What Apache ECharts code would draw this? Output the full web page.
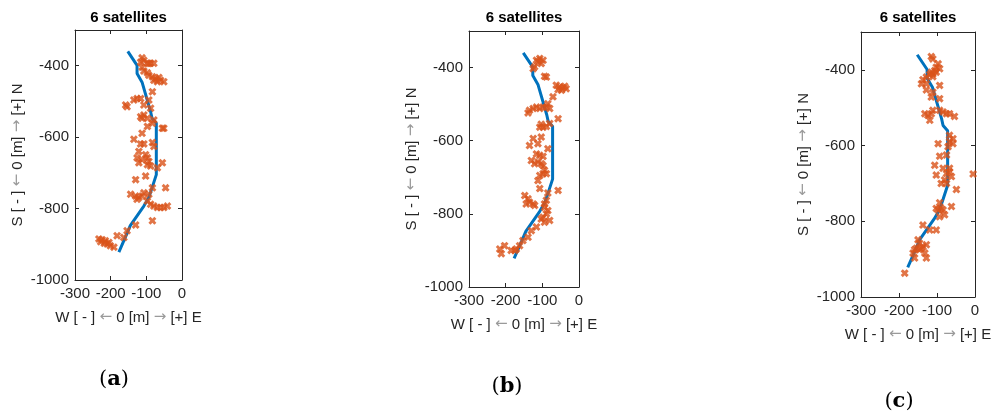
<!DOCTYPE html>
<html>
<head>
<meta charset="utf-8">
<script src="https://cdn.jsdelivr.net/npm/echarts@6/dist/echarts.min.js"></script>
<style>
  html, body { margin: 0; padding: 0; background: #fff; }
  #chart { width: 1000px; height: 414px; }
</style>
</head>
<body>
<div id="chart"></div>
<script>
// reference track, same in all three panels [E, N] in m
const truePath = [
  [-152, -360], [-126, -399], [-126, -422], [-112, -446], [-88, -529], [-84, -547],
  [-72, -561], [-72, -705], [-84, -742], [-93, -769], [-107, -793], [-145, -848],
  [-163, -890], [-177, -922]
];

// estimated positions, panel (a)
const fixesA = [
  [-112, -378], [-107, -385], [-116, -390], [-97, -393], [-88, -393], [-79, -393], [-93, -394],
  [-112, -404], [-107, -415], [-97, -420], [-93, -427], [-83, -431], [-74, -436], [-65, -433],
  [-60, -441], [-51, -445], [-79, -441], [-69, -445], [-83, -473], [-135, -496], [-126, -492],
  [-116, -492], [-93, -496], [-107, -510], [-158, -510], [-154, -515], [-88, -519], [-116, -543],
  [-107, -538], [-97, -547], [-112, -547], [-79, -552], [-97, -570], [-83, -561], [-55, -575],
  [-51, -575], [-112, -589], [-135, -606], [-107, -619], [-116, -619], [-83, -615], [-79, -626],
  [-121, -640], [-126, -658], [-121, -672], [-112, -663], [-102, -649], [-97, -658], [-93, -668],
  [-97, -677], [-88, -681], [-55, -672], [-69, -686], [-130, -719], [-102, -709], [-46, -742],
  [-83, -742], [-144, -760], [-130, -765], [-121, -769], [-112, -765], [-107, -756], [-93, -760],
  [-126, -774], [-97, -779], [-88, -788], [-79, -793], [-69, -797], [-60, -797], [-51, -797],
  [-41, -793], [-83, -834], [-130, -846], [-154, -862], [-163, -881], [-182, -876], [-233, -885],
  [-224, -887], [-215, -890], [-210, -899], [-201, -904], [-191, -908], [-228, -893], [-218, -897],
  [-205, -895]
];

// estimated positions, panel (b)
const fixesB = [
  [-107, -375], [-98, -380], [-112, -384], [-103, -389], [-116, -380], [-125, -403], [-121, -398],
  [-94, -424], [-89, -426], [-62, -448], [-53, -453], [-44, -455], [-35, -458], [-48, -462],
  [-57, -460], [-39, -451], [-71, -480], [-85, -499], [-80, -512], [-98, -508], [-107, -512],
  [-116, -508], [-125, -512], [-135, -517], [-139, -524], [-89, -508], [-57, -540], [-80, -553],
  [-98, -563], [-107, -563], [-89, -561], [-103, -555], [-125, -594], [-103, -590], [-135, -613],
  [-112, -608], [-85, -622], [-107, -640], [-116, -636], [-98, -643], [-130, -654], [-121, -663],
  [-112, -658], [-103, -663], [-98, -668], [-98, -690], [-94, -681], [-107, -695], [-89, -690],
  [-112, -709], [-107, -731], [-85, -743], [-57, -736], [-148, -750], [-139, -759], [-135, -768],
  [-125, -773], [-121, -777], [-144, -773], [-89, -763], [-94, -773], [-94, -782], [-85, -791],
  [-89, -800], [-98, -809], [-103, -814], [-80, -818], [-94, -823], [-116, -836], [-130, -846],
  [-139, -864], [-153, -873], [-162, -887], [-171, -896], [-175, -900], [-203, -887], [-216, -896],
  [-212, -909], [-185, -900]
];

// estimated positions, panel (c)
const fixesC = [
  [-115, -365], [-111, -371], [-97, -384], [-102, -393], [-106, -402], [-115, -406], [-119, -412],
  [-111, -411], [-128, -419], [-137, -426], [-141, -437], [-128, -437], [-111, -418], [-102, -406],
  [-93, -397], [-93, -441], [-128, -453], [-111, -459], [-115, -472], [-93, -476], [-132, -516],
  [-124, -520], [-115, -516], [-119, -533], [-111, -507], [-84, -511], [-75, -516], [-67, -516],
  [-54, -523], [-93, -507], [-67, -573], [-58, -582], [-67, -590], [-58, -595], [-71, -603],
  [-97, -595], [-75, -625], [-93, -628], [-106, -652], [-84, -660], [-75, -674], [-67, -669],
  [-62, -682], [-80, -691], [-75, -700], [-89, -700], [-102, -678], [-67, -660], [-5, -675],
  [-49, -716], [-93, -751], [-97, -770], [-89, -766], [-84, -770], [-80, -783], [-93, -788],
  [-102, -766], [-62, -761], [-137, -810], [-119, -823], [-102, -823], [-150, -849], [-146, -858],
  [-154, -871], [-159, -875], [-146, -875], [-137, -867], [-128, -862], [-132, -884], [-128, -897],
  [-159, -897], [-163, -884], [-141, -871], [-185, -937]
];

const panelLetters = ['a', 'b', 'c'];
const xTicks = { min: -300, max: 0, interval: 100 };
const yTicks = { min: -1000, max: -300, interval: 200 };

// layout of the three axes boxes (px)
const boxes = [
  { left: 75, top: 30, width: 107, height: 250, cap: [114, 380] },
  { left: 469, top: 31, width: 110, height: 256, cap: [507, 387] },
  { left: 861, top: 32, width: 114, height: 265, cap: [899, 402] }
];

const ink = '#262626';
const crossPath = 'path://M0,2.6L2.6,0L5,2.4L7.4,0L10,2.6L7.6,5L10,7.4L7.4,10L5,7.6L2.6,10L0,7.4L2.4,5Z';
const arrowRich = {
  ar: { color: '#9a9a9a', fontSize: 15, fontFamily: 'DejaVu Sans' }
};
const plain = v => String(v);

let chart = echarts.init(document.getElementById('chart'));

let grids = [], xAxes = [], yAxes = [], series = [], graphics = [];
const fixes = [fixesA, fixesB, fixesC];

boxes.forEach((b, i) => {
  grids.push({ left: b.left, top: b.top, width: b.width, height: b.height, containLabel: false });
  const line = { show: true, onZero: false, lineStyle: { color: ink, width: 1 } };
  const tick = { show: true, inside: true, length: 4, lineStyle: { color: ink } };
  xAxes.push({
    type: 'value', gridIndex: i, position: 'bottom', ...xTicks,
    axisLine: line, axisTick: tick, splitLine: { show: false },
    axisLabel: { color: ink, fontSize: 15, fontFamily: 'Liberation Sans', margin: 6, formatter: plain },
    name: 'W [ - ] {ar|←} 0 [m] {ar|→} [+] E',
    nameLocation: 'middle', nameGap: 30,
    nameTextStyle: { color: ink, fontSize: 15, fontFamily: 'Liberation Sans', rich: arrowRich }
  });
  yAxes.push({
    type: 'value', gridIndex: i, position: 'left', ...yTicks,
    axisLine: line, axisTick: tick, splitLine: { show: false },
    axisLabel: { color: ink, fontSize: 15, fontFamily: 'Liberation Sans', margin: 6, showMaxLabel: false, formatter: plain },
    name: 'S [ - ] {ar|←} 0 [m] {ar|→} [+] N',
    nameLocation: 'middle', nameGap: 50,
    nameTextStyle: { color: ink, fontSize: 15, fontFamily: 'Liberation Sans', rich: arrowRich }
  });
  series.push({
    type: 'line', xAxisIndex: i, yAxisIndex: i, data: truePath,
    showSymbol: false, lineStyle: { color: '#0072BD', width: 3 }, z: 2, silent: true
  });
  series.push({
    type: 'scatter', xAxisIndex: i, yAxisIndex: i, data: fixes[i],
    symbol: crossPath, symbolSize: 8, itemStyle: { color: '#D95319' }, z: 3
  });
  graphics.push({
    type: 'text', x: b.left + b.width / 2, y: 18,
    style: { text: '6 satellites', fill: '#000', font: 'bold 15px "Liberation Sans"', align: 'center', verticalAlign: 'middle' }
  });
  graphics.push({
    type: 'text', x: b.cap[0], y: b.cap[1],
    style: {
      text: '{p|(}{l|' + panelLetters[i] + '}{p|)}', align: 'center', verticalAlign: 'middle',
      rich: {
        p: { fontSize: 21, fontFamily: 'DejaVu Serif', fill: '#000' },
        l: { fontSize: 21, fontFamily: 'DejaVu Serif', fontWeight: 'bold', fill: '#000' }
      }
    }
  });
});

// mirrored top/right axes, MATLAB box style
boxes.forEach((b, i) => {
  const line = { show: true, onZero: false, lineStyle: { color: ink, width: 1 } };
  const tick = { show: true, inside: true, length: 4, lineStyle: { color: ink } };
  xAxes.push({
    type: 'value', gridIndex: i, position: 'top', ...xTicks,
    axisLine: line, axisTick: tick, axisLabel: { show: false }, splitLine: { show: false }
  });
  yAxes.push({
    type: 'value', gridIndex: i, position: 'right', ...yTicks,
    axisLine: line, axisTick: tick, axisLabel: { show: false }, splitLine: { show: false }
  });
});

chart.setOption({
  backgroundColor: '#fff',
  animation: false,
  grid: grids,
  xAxis: xAxes,
  yAxis: yAxes,
  series: series,
  graphic: graphics
});
</script>
</body>
</html>
